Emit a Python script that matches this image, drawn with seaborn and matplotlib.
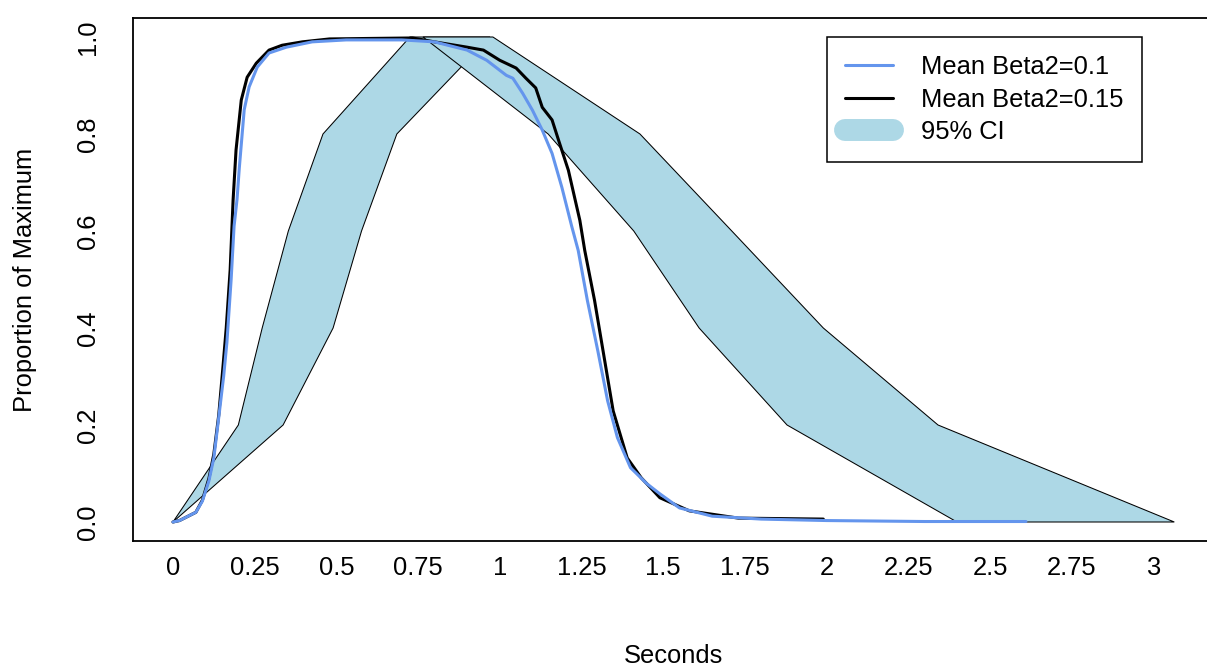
"""
plot.py
-------
Proportion of maximum over time for two mean Beta2 settings,
with the 95% CI band (rising and falling parts) behind them.
"""

import matplotlib
matplotlib.use("Agg")
import matplotlib.pyplot as plt
from matplotlib.lines import Line2D
import seaborn as sns

# ---- data -----------------------------------------------------------------
# 95% CI band, drawn as two polygons (x = seconds at each proportion level)
ci_levels = [0.0, 0.2, 0.4, 0.6, 0.8, 1.0]
rise_early_x = [0.0, 0.20, 0.273, 0.353, 0.459, 0.725]
rise_late_x = [0.0, 0.337, 0.490, 0.577, 0.685, 0.970]
fall_levels = [1.0, 0.8, 0.6, 0.4, 0.2, 0.0]
fall_early_x = [0.765, 1.148, 1.410, 1.610, 1.879, 2.399]
fall_late_x = [0.979, 1.429, 1.710, 1.990, 2.341, 3.064]

# Mean Beta2=0.1
beta01_t = [0.00, 0.02, 0.07, 0.09, 0.11, 0.125, 0.14, 0.155, 0.165, 0.178,
            0.187, 0.196, 0.203, 0.218, 0.233, 0.258, 0.294, 0.347, 0.426,
            0.53, 0.70, 0.80, 0.90, 0.96, 1.02, 1.04, 1.07, 1.10, 1.13, 1.16,
            1.19, 1.22, 1.24, 1.268, 1.30, 1.33, 1.36, 1.40, 1.45, 1.49, 1.55,
            1.65, 1.80, 2.00, 2.30, 2.61]
beta01_p = [0.00, 0.003, 0.02, 0.043, 0.085, 0.132, 0.215, 0.30, 0.37, 0.50,
            0.61, 0.665, 0.73, 0.85, 0.897, 0.938, 0.967, 0.979, 0.99,
            0.994, 0.994, 0.99, 0.973, 0.952, 0.921, 0.915, 0.884, 0.849,
            0.808, 0.76, 0.69, 0.61, 0.56, 0.457, 0.353, 0.25, 0.174, 0.112,
            0.079, 0.058, 0.029, 0.012, 0.006, 0.003, 0.001, 0.001]

# Mean Beta2=0.15
beta015_t = [0.00, 0.02, 0.07, 0.09, 0.11, 0.125, 0.14, 0.153, 0.163, 0.175,
             0.184, 0.193, 0.209, 0.227, 0.255, 0.294, 0.334, 0.396, 0.479,
             0.60, 0.733, 0.80, 0.90, 0.95, 1.00, 1.05, 1.08, 1.11, 1.13,
             1.16, 1.18, 1.21, 1.245, 1.26, 1.29, 1.316, 1.347, 1.39, 1.433,
             1.49, 1.58, 1.73, 1.99]
beta015_p = [0.00, 0.003, 0.02, 0.045, 0.09, 0.14, 0.22, 0.32, 0.40, 0.52,
             0.664, 0.767, 0.87, 0.917, 0.946, 0.973, 0.983, 0.99, 0.996,
             0.997, 0.998, 0.99, 0.979, 0.973, 0.952, 0.936, 0.915, 0.895,
             0.855, 0.829, 0.787, 0.725, 0.622, 0.56, 0.457, 0.353, 0.229,
             0.132, 0.091, 0.05, 0.023, 0.008, 0.006]

x_ticks = [0, 0.25, 0.5, 0.75, 1, 1.25, 1.5, 1.75, 2, 2.25, 2.5, 2.75, 3]
x_labels = ["0", "0.25", "0.5", "0.75", "1", "1.25", "1.5", "1.75", "2",
            "2.25", "2.5", "2.75", "3"]
y_ticks = [0.0, 0.2, 0.4, 0.6, 0.8, 1.0]
y_labels = ["0.0", "0.2", "0.4", "0.6", "0.8", "1.0"]

BAND_COLOR = "lightblue"
BLUE = "cornflowerblue"

sns.set_style("white")
plt.rcParams["font.family"] = ["Liberation Sans", "DejaVu Sans"]
plt.rcParams["text.color"] = "black"
plt.rcParams["axes.labelcolor"] = "black"
FS = 18.4

W, H = 1207, 667
fig = plt.figure(figsize=(W / 100, H / 100), dpi=100)
# R-style plot region (box runs slightly past the right edge of the picture)
left_px, right_px, top_px, bottom_px = 132.9, 1214.5, 17.6, 541.4
ax = fig.add_axes([left_px / W, 1 - bottom_px / H,
                   (right_px - left_px) / W, (bottom_px - top_px) / H])

# CI band: rising part first, falling part on top of it
ax.fill(rise_early_x + rise_late_x[::-1], ci_levels + ci_levels[::-1],
        facecolor=BAND_COLOR, edgecolor="black", linewidth=0.75, zorder=1)
ax.fill(fall_early_x + fall_late_x[::-1], fall_levels + fall_levels[::-1],
        facecolor=BAND_COLOR, edgecolor="black", linewidth=0.75, zorder=2)

sns.lineplot(x=beta015_t, y=beta015_p, color="black", linewidth=2.2,
             estimator=None, sort=False, ax=ax, zorder=3)
sns.lineplot(x=beta01_t, y=beta01_p, color=BLUE, linewidth=2.2,
             estimator=None, sort=False, ax=ax, zorder=4)

ax.set_xlim(-0.1226, 3.187)
ax.set_ylim(-0.04, 1.04)
ax.set_xticks(x_ticks)
ax.set_xticklabels(x_labels, fontsize=FS)
ax.set_yticks(y_ticks)
ax.set_yticklabels(y_labels, fontsize=FS, rotation=90, va="center")
ax.tick_params(axis="x", length=5.8, width=1.1, pad=4.5, colors="black")
ax.tick_params(axis="y", length=10.8, width=1.1, pad=13, colors="black")
for sp in ax.spines.values():
    sp.set_visible(True)
    sp.set_color("black")
    sp.set_linewidth(1.3)

ax.set_xlabel("Seconds", fontsize=FS, color="black")
ax.set_ylabel("Proportion of Maximum", fontsize=FS, color="black")
ax.xaxis.set_label_coords(0.5, (bottom_px - 644) / (bottom_px - top_px))
ax.yaxis.set_label_coords((37 - left_px) / (right_px - left_px), 0.5)

handles = [
    Line2D([], [], color=BLUE, linewidth=2.2),
    Line2D([], [], color="black", linewidth=2.2),
    Line2D([], [], color=BAND_COLOR, linewidth=15.8, solid_capstyle="round"),
]
leg = ax.legend(handles, ["Mean Beta2=0.1", "Mean Beta2=0.15", "95% CI"],
                loc="upper left", bbox_to_anchor=(827 / W, 1 - 37 / H),
                bbox_transform=fig.transFigure, fontsize=FS, frameon=True,
                fancybox=False, framealpha=1, edgecolor="black",
                borderpad=0.72, labelspacing=0.32, handlelength=1.87,
                handletextpad=1.1, borderaxespad=0, labelcolor="black")
leg.get_frame().set_linewidth(1.1)

fig.savefig("out.png", dpi=100)
